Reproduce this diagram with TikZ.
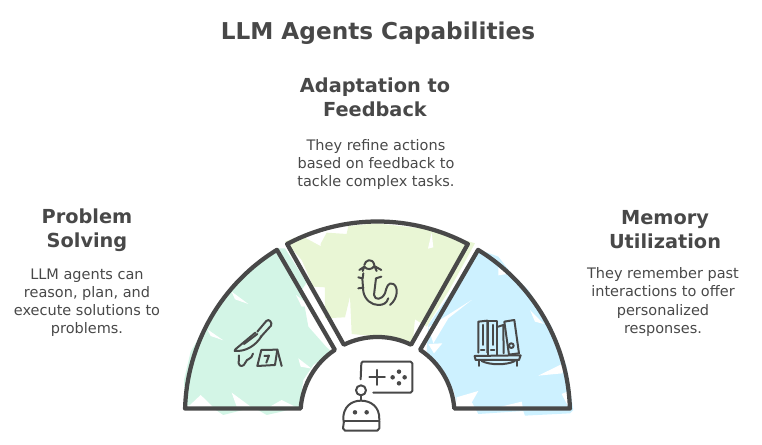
\documentclass[tikz,border=0pt]{standalone}
\usepackage{fontspec}
\setmainfont{DejaVu Sans}
\definecolor{inkgray}{HTML}{484848}
\definecolor{mintfill}{HTML}{D3F5E6}
\definecolor{limefill}{HTML}{E9F6D5}
\definecolor{skyfill}{HTML}{CDF1FF}
\begin{document}
\begin{tikzpicture}[x=0.02cm, y=-0.02cm,
    titletext/.style={inner sep=0pt, text=inkgray, align=center, font=\fontsize{13.2pt}{16pt}\selectfont\bfseries},
    headtext/.style={inner sep=0pt, text=inkgray, align=center, font=\fontsize{11pt}{13.7pt}\selectfont\bfseries},
    bodytext/.style={inner sep=0pt, text=inkgray, align=center, font=\fontsize{8.25pt}{10.3pt}\selectfont},
    sector/.style={draw=inkgray, line width=0.085cm, line join=round},
    icon/.style={draw=inkgray, line width=0.04cm, line cap=round, line join=round},
    dot/.style={circle, fill=inkgray, inner sep=0pt, minimum size=0.09cm}]

    \useasboundingbox (0,0) rectangle (762,445);

    % --- Texts ---
    \node[titletext] (title) at (378,33.5) {LLM Agents Capabilities};
    \node[headtext] (feedbackhead) at (375,97.5) {Adaptation to\\Feedback};
    \node[bodytext] (feedbackbody) at (376,164.5) {They refine actions\\based on feedback to\\tackle complex tasks.};
    \node[headtext] (problemhead) at (87,230.5) {Problem\\Solving};
    \node[bodytext] (problembody) at (87,302.5) {LLM agents can\\reason, plan, and\\execute solutions to\\problems.};
    \node[headtext] (memoryhead) at (665,230) {Memory\\Utilization};
    \node[bodytext] (memorybody) at (663,302) {They remember past\\interactions to offer\\personalized\\responses.};

    % everything below is in 3x units from the corner of the arch
    \begin{scope}[shift={(170,210)}, x=0.00666667cm, y=-0.00666667cm]

        % --- Sketchy fills ---
        \fill[mintfill] (42,510) -- (62,425) -- (78,398) -- (120,315) -- (190,222) -- (252,165) -- (320,115)
            -- (345,115) -- (410,218) -- (395,240) -- (415,350) -- (470,412) -- (485,425) -- (430,465)
            -- (400,510) -- (388,590) -- (335,605) -- (290,615) -- (250,592) -- (160,615) -- (125,592) -- (45,585) -- cycle;
        \fill[white] (112,358) -- (160,391) -- (122,378) -- cycle;
        \fill[white] (185,245) -- (235,282) -- (195,268) -- cycle;
        \fill[white] (378,255) -- (420,288) -- (395,290) -- cycle;
        \fill[white] (385,445) -- (425,476) -- (392,470) -- cycle;
        \fill[white] (92,555) -- (128,590) -- (55,590) -- cycle;
        \fill[white] (185,548) -- (242,590) -- (200,590) -- cycle;
        \fill[white] (335,570) -- (375,590) -- (300,590) -- cycle;

        \fill[limefill] (345,95) -- (395,75) -- (450,105) -- (470,68) -- (530,72) -- (535,48) -- (620,40)
            -- (780,58) -- (915,100) -- (835,245) -- (770,350) -- (735,328) -- (728,398) -- (680,385)
            -- (545,372) -- (540,260) -- (525,322) -- (465,325) -- (465,232) -- (430,230) -- (395,150) -- (360,110) -- cycle;
        \fill[white] (785,68) -- (790,112) -- (774,116) -- cycle;
        \fill[white] (385,72) -- (450,88) -- (452,108) -- cycle;

        \fill[skyfill] (930,120) -- (985,140) -- (1020,185) -- (1075,240) -- (1145,350) -- (1190,470) -- (1210,600)
            -- (1200,610) -- (1065,617) -- (1060,603) -- (925,612) -- (905,575) -- (860,575) -- (850,540)
            -- (820,480) -- (770,425) -- (775,345) -- (900,165) -- cycle;
        \fill[white] (985,172) -- (1012,192) -- (985,196) -- cycle;
        \fill[white] (775,352) -- (905,270) -- (835,325) -- (790,400) -- cycle;
        \fill[white] (775,402) -- (817,400) -- (792,430) -- cycle;
        \fill[white] (1080,300) -- (1122,342) -- (1095,335) -- cycle;
        \fill[white] (1105,497) -- (1180,460) -- (1178,490) -- cycle;
        \fill[white] (860,562) -- (925,543) -- (905,578) -- (860,590) -- cycle;
        \fill[white] (985,592) -- (1055,575) -- (1060,600) -- cycle;
        \fill[white] (1175,552) -- (1192,545) -- (1196,592) -- cycle;

        % --- Sectors ---
        \coordinate (hub) at (622.5,612);
        \foreach \from/\to/\ifrom/\ito in {178.4/121.5/123.6/175.9, 118/62/64.1/115.9, 58.5/1.6/4.1/56.4}
            \draw[sector] ([shift={(-\from:577.5)}]hub) arc[start angle=-\from, end angle=-\to, radius=577.5]
                -- ([shift={(-\ifrom:231)}]hub) arc[start angle=-\ifrom, end angle=-\ito, radius=231] -- cycle;

        % --- Knife and marker ---
        \draw[icon] (262,365) -- (289,333) to[out=50,in=60,looseness=1.4] (303,347) -- (272,381);
        \draw[icon] (256,368) -- (196,418) -- (194,423) .. controls (225,425) and (255,410) .. (275,378);
        \draw[icon] (222,402) -- (262,372);
        \draw[icon] (207,436) -- (206,460) .. controls (208,472) and (222,470) .. (226,458) .. controls (230,444) and (245,450) .. (249,431);
        \draw[icon] (274,420) -- (322,419) -- (315,465) -- (262,468) -- cycle;
        \draw[icon] (322,419) -- (335,468);
        \draw[icon] (283,438) -- (297,437) -- (289,458);

        % --- Salamander ---
        \draw[icon] (583,165) .. controls (585,150) and (608,142) .. (613,165);
        \draw[icon] (568,180) -- (583,170) -- (578,183);
        \draw[icon] (634,180) -- (613,168) -- (620,183);
        \draw[icon] (583,170) .. controls (590,180) and (606,180) .. (613,168);
        \draw[icon] (565,202) -- (577,205) -- (580,245) .. controls (585,270) and (605,285) .. (625,285) .. controls (640,285) and (650,280) .. (655,265);
        \draw[icon] (565,235) -- (580,233);
        \draw[icon] (634,200) -- (618,205) -- (612,255) .. controls (615,272) and (635,270) .. (645,250) .. controls (650,230) and (655,215) .. (670,222)
            .. controls (685,230) and (685,265) .. (660,285);
        \draw[icon] (580,190) -- (578,205);

        % --- Books on a shelf ---
        \draw[icon] (925,428) -- (925,335) -- (952,332) -- (952,428);
        \draw[icon] (955,435) -- (955,332) -- (982,332) -- (982,435);
        \draw[icon] (985,350) -- (1000,345) -- (1001,430);
        \draw[icon] (1003,335) -- (1033,330) -- (1047,430) -- (1017,434) -- cycle;
        \draw[icon] (938,345) -- (938,405);
        \draw[icon] (968,345) -- (968,405);
        \draw[icon] (933,420) -- (943,420);
        \draw[icon] (963,420) -- (973,420);
        \draw[icon] (1024,407) circle[radius=7];
        \draw[icon] (914,438) -- (1052,436) -- (1047,450) -- (917,450) -- cycle;
        \draw[icon] (927,450) -- (927,468);
        \draw[icon] (1040,450) -- (1040,468);
        \draw[icon] (935,453) .. controls (960,466) and (1010,466) .. (1035,453);

        % --- Robot and game screen ---
        \draw[icon] (610,548) -- (722,548) -- (727,543) -- (727,460) -- (722,455) -- (578,455) -- (574,460) -- (572,508);
        \draw[icon] (622,480) -- (622,525);
        \draw[icon] (598,502) -- (645,502);
        \node[dot] (gamedot1) at (687,485) {};
        \node[dot] (gamedot2) at (668,502) {};
        \node[dot] (gamedot3) at (704,502) {};
        \node[dot] (gamedot4) at (687,520) {};
        \draw[icon] (573,541) circle[radius=15];
        \draw[icon] (573,556) -- (573,572);
        \draw[icon] (520,630) .. controls (518,590) and (545,572) .. (573,572) .. controls (602,572) and (630,590) .. (628,630);
        \draw[icon] (520,633) -- (628,633);
        \draw[icon] (522,633) -- (519,655) -- (525,662) -- (622,662) -- (628,655) -- (628,633);
        \node[dot] (roboteye1) at (555,607) {};
        \node[dot] (roboteye2) at (590,607) {};
    \end{scope}

\end{tikzpicture}
\end{document}
